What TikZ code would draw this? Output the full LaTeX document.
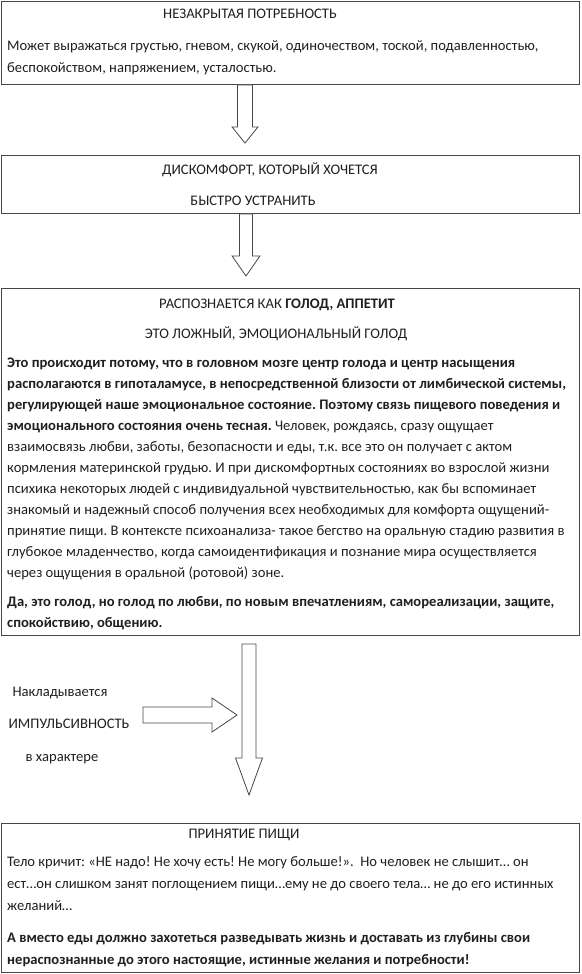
\documentclass[tikz,border=0pt]{standalone}
\usepackage{fontspec}
\setmainfont{Carlito}
\usetikzlibrary{calc}
\frenchspacing
\begin{document}
\begin{tikzpicture}[x=1pt,y=-1pt,
  box/.style={draw=black!72, line width=0.9pt, inner sep=0pt, anchor=north west, fill=none},
  ln/.style={anchor=base west, inner sep=0pt, font=\fontsize{14.6}{17}\selectfont, text=black!88},
  ct/.style={anchor=base, inner sep=0pt, font=\fontsize{14.6}{17}\selectfont, text=black!88},
  barrow/.style={draw=black!72, line width=0.8pt, fill=white, line join=miter}]
\useasboundingbox (0,0) rectangle (581,974);
% boxes
\node[box, minimum width=578pt, minimum height=83pt] (b1) at (1,1) {};
\node[box, minimum width=578pt, minimum height=58pt] (b2) at (1,155) {};
\node[box, minimum width=578pt, minimum height=347pt] (b3) at (1,288) {};
\node[box, minimum width=578pt, minimum height=149pt] (b4) at (1,823) {};
% box 1
\node[ct] (t11) at (250,19) {НЕЗАКРЫТАЯ ПОТРЕБНОСТЬ};
\node[ln] (t12) at (7,51) {Может выражаться грустью, гневом, скукой, одиночеством, тоской, подавленностью,};
\node[ln] (t13) at (7,72) {беспокойством, напряжением, усталостью.};
% box 2
\node[ct] (t21) at (270,174) {ДИСКОМФОРТ, КОТОРЫЙ ХОЧЕТСЯ};
\node[ct] (t22) at (253,205) {БЫСТРО УСТРАНИТЬ};
% box 3
\node[ct] (t31) at (277,308) {РАСПОЗНАЕТСЯ КАК \textbf{ГОЛОД, АППЕТИТ}};
\node[ct] (t32) at (276,338) {ЭТО ЛОЖНЫЙ, ЭМОЦИОНАЛЬНЫЙ ГОЛОД};
\node[ln] (t33) at (7,367) {\bfseries Это происходит потому, что в головном мозге центр голода и центр насыщения};
\node[ln] (t34) at (7,388) {\bfseries располагаются в гипоталамусе, в непосредственной близости от лимбической системы,};
\node[ln] (t35) at (7,409) {\bfseries регулирующей наше эмоциональное состояние. Поэтому связь пищевого поведения и};
\node[ln] (t36) at (7,430) {\textbf{эмоционального состояния очень тесная.} Человек, рождаясь, сразу ощущает};
\node[ln] (t37) at (7,451) {взаимосвязь любви, заботы, безопасности и еды, т.к. все это он получает с актом};
\node[ln] (t38) at (7,472) {кормления материнской грудью. И при дискомфортных состояниях во взрослой жизни};
\node[ln] (t39) at (7,493) {психика некоторых людей с индивидуальной чувствительностью, как бы вспоминает};
\node[ln] (t3a) at (7,514) {знакомый и надежный способ получения всех необходимых для комфорта ощущений-};
\node[ln] (t3b) at (7,535) {принятие пищи. В контексте психоанализа- такое бегство на оральную стадию развития в};
\node[ln] (t3c) at (7,556) {глубокое младенчество, когда самоидентификация и познание мира осуществляется};
\node[ln] (t3d) at (7,577) {через ощущения в оральной (ротовой) зоне.};
\node[ln] (t3e) at (7,606) {\bfseries Да, это голод, но голод по любви, по новым впечатлениям, самореализации, защите,};
\node[ln] (t3f) at (7,627) {\bfseries спокойствию, общению.};
% side text
\node[ct] (s1) at (60,696) {Накладывается};
\node[ct] (s2) at (69,728) {ИМПУЛЬСИВНОСТЬ};
\node[ct] (s3) at (62,761) {в характере};
% box 4
\node[ct] (t41) at (244,838) {ПРИНЯТИЕ ПИЩИ};
\node[ln] (t42) at (7,866) {Тело кричит: «НЕ надо! Не хочу есть! Не могу больше!».~~Но человек не слышит… он};
\node[ln] (t43) at (7,888) {ест…он слишком занят поглощением пищи…ему не до своего тела… не до его истинных};
\node[ln] (t44) at (7,910) {желаний…};
\node[ln] (t45) at (7,942) {\bfseries А вместо еды должно захотеться разведывать жизнь и доставать из глубины свои};
\node[ln] (t46) at (7,964) {\bfseries нераспознанные до этого настоящие, истинные желания и потребности!};
% block arrows
\coordinate (a1) at (245,0);
\draw[barrow] ($(a1 |- b1.south)+(-7.5,0)$) -- ($(a1 |- b1.south)+(7.5,0)$) -- ++(0,42) -- ++(5.5,0)
  -- ($(a1 |- b2.north)+(0,-12)$) -- ($(a1 |- b1.south)+(-13,42)$) -- ++(5.5,0) -- cycle;
\coordinate (a2) at (246,0);
\draw[barrow] ($(a2 |- b2.south)+(-6.5,0)$) -- ($(a2 |- b2.south)+(6.5,0)$) -- ++(0,42) -- ++(7.5,0)
  -- ($(a2 |- b3.north)+(0,-12)$) -- ($(a2 |- b2.south)+(-14,42)$) -- ++(7.5,0) -- cycle;
\coordinate (a3) at (249,0);
\draw[barrow] ($(a3 |- b3.south)+(-7,8)$) -- ($(a3 |- b3.south)+(7,8)$) -- ++(0,114) -- ++(6.5,0)
  -- ($(a3 |- b4.north)+(0,-28)$) -- ($(a3 |- b3.south)+(-13.5,122)$) -- ++(6.5,0) -- cycle;
\coordinate (h0) at (143,715);
\draw[barrow] ($(h0)+(0,-8)$) -- ++(69,0) -- ++(0,-9) -- ($(h0)+(94,0)$) -- ($(h0)+(69,17)$) -- ++(0,-9) -- ++(-69,0) -- cycle;
\end{tikzpicture}
\end{document}
